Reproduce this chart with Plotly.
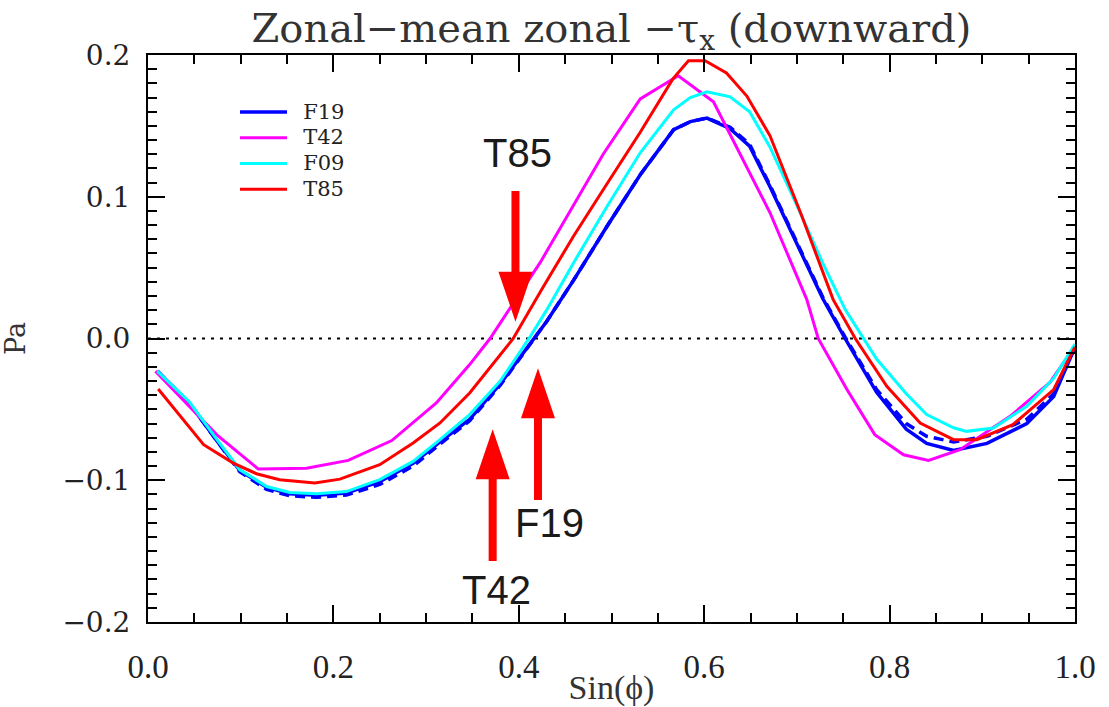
import plotly.graph_objects as go

# ---------------- data ----------------
f19_x = [0.01, 0.045, 0.074, 0.099, 0.128, 0.153, 0.182, 0.214, 0.25, 0.286, 0.315, 0.347, 0.38, 0.41,
         0.43, 0.459, 0.495, 0.531, 0.567, 0.585, 0.603, 0.628, 0.649, 0.671, 0.70, 0.728, 0.752, 0.786,
         0.818, 0.84, 0.869, 0.905, 0.948, 0.977, 1.0]
f19_y = [-0.023, -0.046, -0.072, -0.093, -0.105, -0.1095, -0.1105, -0.109, -0.101, -0.088, -0.073, -0.057,
         -0.032, -0.006, 0.012, 0.041, 0.079, 0.1155, 0.1473, 0.153, 0.1555, 0.148, 0.1357, 0.107, 0.067,
         0.028, 0.0, -0.038, -0.064, -0.074, -0.079, -0.074, -0.060, -0.041, -0.006]

f19b_x = f19_x
f19b_y = [-0.023, -0.046, -0.072, -0.094, -0.1065, -0.111, -0.112, -0.1105, -0.103, -0.090, -0.0745, -0.058,
          -0.033, -0.006, 0.012, 0.041, 0.079, 0.1155, 0.1473, 0.153, 0.1555, 0.149, 0.137, 0.108, 0.068,
          0.029, 0.001, -0.036, -0.060, -0.069, -0.073, -0.069, -0.057, -0.039, -0.006]

t42_x = [0.008, 0.045, 0.074, 0.119, 0.171, 0.216, 0.263, 0.311, 0.347, 0.369, 0.423, 0.491, 0.531, 0.572,
         0.610, 0.671, 0.7106, 0.723, 0.754, 0.784, 0.815, 0.842, 0.876, 0.930, 0.973, 1.0]
t42_y = [-0.023, -0.0478, -0.0678, -0.0921, -0.0916, -0.086, -0.072, -0.0455, -0.0184, 0.0, 0.0535, 0.130,
         0.169, 0.1853, 0.167, 0.0887, 0.0276, 0.0, -0.036, -0.0678, -0.082, -0.086, -0.0784, -0.0549,
         -0.031, -0.0054]

f09_x = [0.01, 0.045, 0.074, 0.099, 0.128, 0.153, 0.182, 0.214, 0.25, 0.286, 0.315, 0.347, 0.38, 0.41,
         0.43, 0.459, 0.495, 0.531, 0.567, 0.585, 0.603, 0.628, 0.649, 0.671, 0.70, 0.728, 0.752, 0.786,
         0.818, 0.84, 0.869, 0.883, 0.912, 0.948, 0.977, 1.0]
f09_y = [-0.023, -0.045, -0.071, -0.0926, -0.1044, -0.1086, -0.1095, -0.108, -0.0996, -0.0867, -0.0714,
         -0.0537, -0.030, -0.001, 0.020, 0.0533, 0.093, 0.131, 0.1614, 0.170, 0.174, 0.1705, 0.160, 0.135,
         0.094, 0.053, 0.0206, -0.0145, -0.039, -0.0537, -0.063, -0.0655, -0.0631, -0.0478, -0.028, -0.004]

t85_x = [0.011, 0.060, 0.092, 0.117, 0.142, 0.180, 0.207, 0.250, 0.286, 0.315, 0.347, 0.394, 0.425, 0.459,
         0.495, 0.531, 0.566, 0.583, 0.601, 0.624, 0.646, 0.671, 0.705, 0.739, 0.763, 0.797, 0.833, 0.869,
         0.894, 0.933, 0.977, 1.0]
t85_y = [-0.0356, -0.0749, -0.0879, -0.0954, -0.0996, -0.102, -0.0992, -0.089, -0.0737, -0.0596, -0.0384,
         0.0, 0.035, 0.0721, 0.109, 0.1455, 0.183, 0.196, 0.196, 0.1873, 0.171, 0.143, 0.087, 0.0276, 0.0,
         -0.0337, -0.0596, -0.0714, -0.0714, -0.0608, -0.036, -0.006]

x_ticks = [0.0, 0.2, 0.4, 0.6, 0.8, 1.0]
y_ticks = [-0.2, -0.1, 0.0, 0.1, 0.2]

# arrow annotations: label, x, tip y, tail y, label x, label y
arrows = [
    ("T85", 0.3964, 0.0119, 0.104, 0.399, 0.131),
    ("F19", 0.4207, -0.021, -0.114, 0.4326, -0.130),
    ("T42", 0.3718, -0.064, -0.157, 0.3754, -0.1774),
]

# ---------------- layout geometry ----------------
W, H = 1109, 707
ML, MR, MT, MB = 148, 34, 55, 85
PW, PH = W - ML - MR, H - MT - MB
XR, YR = (0.0, 1.0), (-0.2, 0.2)
px_x = (XR[1] - XR[0]) / PW
px_y = (YR[1] - YR[0]) / PH


def leg(name):
    return "\u00a0\u00a0<span style='font-size:21px'>" + name + "</span>"


fig = go.Figure()
fig.add_trace(go.Scatter(x=f19b_x, y=f19b_y, mode="lines", showlegend=False,
                         line=dict(color="#0000ff", width=3.5, dash="10px,6px")))
fig.add_trace(go.Scatter(x=f19_x, y=f19_y, mode="lines", name=leg("F19"),
                         line=dict(color="#0000ff", width=3.5)))
fig.add_trace(go.Scatter(x=t42_x, y=t42_y, mode="lines", name=leg("T42"),
                         line=dict(color="#ff00ff", width=3)))
fig.add_trace(go.Scatter(x=f09_x, y=f09_y, mode="lines", name=leg("F09"),
                         line=dict(color="#00ffff", width=3)))
fig.add_trace(go.Scatter(x=t85_x, y=t85_y, mode="lines", name=leg("T85"),
                         line=dict(color="#ff0000", width=3)))

shapes = [dict(type="line", xref="x", yref="y", x0=0, x1=1, y0=0, y1=0,
               line=dict(color="black", width=2, dash="3px,6px"), layer="below")]
annotations = []
shaft_w, head_w, head_l = 8, 34, 50
for lab, ax, tip, tail, lx, ly in arrows:
    d = 1 if tip > tail else -1
    hb = tip - d * head_l * px_y
    sw = shaft_w / 2 * px_x
    hw = head_w / 2 * px_x
    path = (f"M{ax - sw},{tail} L{ax + sw},{tail} L{ax + sw},{hb} L{ax + hw},{hb} "
            f"L{ax},{tip} L{ax - hw},{hb} L{ax - sw},{hb} Z")
    shapes.append(dict(type="path", xref="x", yref="y", path=path,
                       fillcolor="#ff0000", line=dict(width=0)))
    annotations.append(dict(x=lx, y=ly, xref="x", yref="y", text=lab, showarrow=False,
                            font=dict(family="Liberation Sans", size=40, color="#1a1a1a"),
                            xanchor="center", yanchor="middle"))

axis_common = dict(showline=True, linecolor="black", linewidth=2, mirror="ticks",
                   ticks="inside", tickcolor="black", tickwidth=2, ticklen=17,
                   showgrid=False, zeroline=False, automargin=False)

fig.update_layout(
    width=W, height=H,
    margin=dict(l=ML, r=MR, t=MT, b=MB),
    paper_bgcolor="white", plot_bgcolor="white",
    title=dict(text="Zonal\u2212mean zonal \u2212\u03c4<sub>x</sub> (downward)",
               x=(ML + PW / 2) / W, xanchor="center", y=1 - 28 / H, yanchor="middle",
               font=dict(family="DejaVu Serif", size=40, color="#333333")),
    xaxis=dict(range=list(XR), tickvals=x_ticks, tickformat=".1f",
               tickfont=dict(family="Liberation Serif", size=33, color="#222222"),
               ticklabelstandoff=14,
               minor=dict(dtick=0.05, ticks="inside", ticklen=9, tickwidth=1.5, tickcolor="black"),
               title=dict(text="Sin(\u03d5)", font=dict(family="Liberation Serif", size=34, color="#333333"),
                          standoff=0),
               **axis_common),
    yaxis=dict(range=list(YR), tickvals=y_ticks, tickformat=".1f",
               tickfont=dict(family="DejaVu Serif", size=28, color="#222222"),
               ticklabelstandoff=10,
               minor=dict(dtick=0.01, ticks="inside", ticklen=9, tickwidth=1.5, tickcolor="black"),
               title=dict(text="Pa", font=dict(family="DejaVu Serif", size=27, color="#333333"),
                          standoff=44),
               **axis_common),
    legend=dict(x=(235 - ML) / PW, y=1 - (94 - MT) / PH, xanchor="left", yanchor="top",
                bgcolor="rgba(0,0,0,0)", borderwidth=0, itemwidth=47,
                font=dict(family="DejaVu Serif", size=17.5, color="#222222"), tracegroupgap=0),
    shapes=shapes,
    annotations=annotations,
)

fig.write_html("out.html")
